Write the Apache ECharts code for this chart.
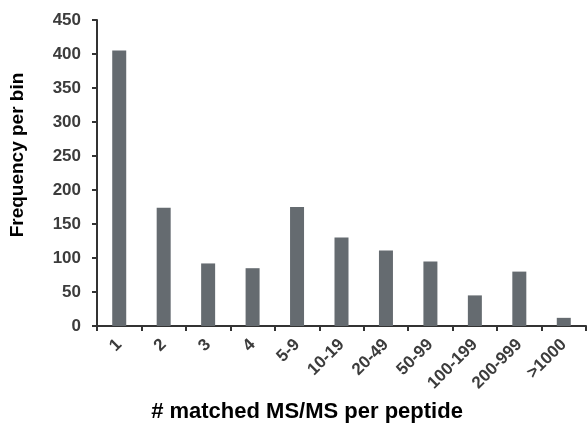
<!DOCTYPE html>
<html>
<head>
<meta charset="utf-8">
<script src="https://cdn.jsdelivr.net/npm/echarts@6/dist/echarts.min.js"></script>
<style>html,body{margin:0;padding:0;background:#fff}#c{width:587px;height:437px}</style>
</head>
<body>
<div id="c"></div>
<script>
const categories = ['1','2','3','4','5-9','10-19','20-49','50-99','100-199','200-999','>1000'];
const frequency = [405, 174, 92, 85, 175, 130, 111, 95, 45, 80, 12];
const yTicks = {min: 0, max: 450, interval: 50};

const chart = echarts.init(document.getElementById('c'), null, {renderer: 'canvas'});
const font = 'Liberation Sans, Arial, Helvetica, sans-serif';
chart.setOption({
  animation: false,
  backgroundColor: '#fff',
  grid: {left: 97, right: 1, top: 20, bottom: 111, containLabel: false},
  xAxis: {
    type: 'category',
    data: categories,
    boundaryGap: true,
    axisLine: {show: true, lineStyle: {color: '#333', width: 2}},
    axisTick: {show: true, alignWithLabel: false, length: 5, lineStyle: {color: '#333', width: 2}},
    axisLabel: {rotate: 45, interval: 0, margin: 16, color: '#3c3c3c', fontSize: 17, fontWeight: 'bold', fontFamily: font},
    splitLine: {show: false}
  },
  yAxis: {
    type: 'value',
    min: yTicks.min, max: yTicks.max, interval: yTicks.interval,
    axisLine: {show: true, lineStyle: {color: '#333', width: 2}},
    axisTick: {show: true, length: 5, lineStyle: {color: '#333', width: 2}},
    axisLabel: {margin: 16, color: '#3c3c3c', fontSize: 17, fontWeight: 'bold', fontFamily: font},
    splitLine: {show: false}
  },
  series: [{
    type: 'bar',
    data: frequency,
    barWidth: 14,
    itemStyle: {color: '#656b70'}
  }],
  graphic: [
    {type: 'text', x: 18, y: 155, rotation: Math.PI / 2,
     style: {text: 'Frequency per bin', fill: '#000', font: 'bold 19px ' + font, textAlign: 'center', textVerticalAlign: 'middle'}},
    {type: 'text', x: 307, y: 412,
     style: {text: '# matched MS/MS per peptide', fill: '#000', font: 'bold 22px ' + font, textAlign: 'center', textVerticalAlign: 'middle'}}
  ]
});
</script>
</body>
</html>
